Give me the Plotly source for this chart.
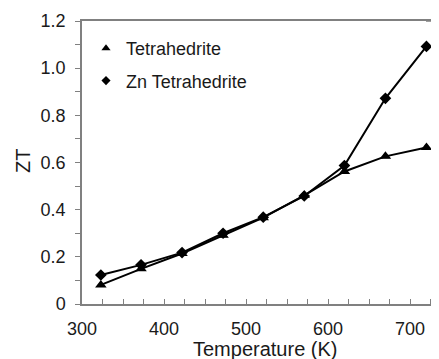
import plotly.graph_objects as go

temperature_k = [323, 372, 422, 472, 521, 571, 620, 670, 720]
zt_tetrahedrite = [0.081, 0.149, 0.214, 0.292, 0.366, 0.461, 0.562, 0.626, 0.664]
zt_zn_tetrahedrite = [0.123, 0.166, 0.218, 0.300, 0.368, 0.458, 0.587, 0.872, 1.092]

series_names = ["Tetrahedrite", "Zn Tetrahedrite"]
y_tick_vals = [0, 0.2, 0.4, 0.6, 0.8, 1.0, 1.2]
y_tick_text = ["0", "0.2", "0.4", "0.6", "0.8", "1.0", "1.2"]
x_tick_vals = [300, 400, 500, 600, 700]

FONT = "Liberation Sans, Arial, Helvetica, sans-serif"
AXIS_GRAY = "#808080"

# page body has an 8px margin; plot area in screen px: x 82..433, y 21..304
OFF = 8
L, R, T, B = 82 - OFF, 6 + OFF, 21 - OFF, 55 + OFF
PW, PH = 439 - L - R, 359 - T - B

fig = go.Figure()

specs = [
    (series_names[0], zt_tetrahedrite, "triangle-up", 10),
    (series_names[1], zt_zn_tetrahedrite, "diamond", 9),
]
for i, (name, ys, sym, sz) in enumerate(specs):
    fig.add_trace(go.Scatter(
        x=temperature_k, y=ys, mode="lines+markers", name=name,
        line=dict(color="black", width=2),
        marker=dict(symbol=sym, size=sz, color="black"),
        showlegend=False, legendgroup=f"g{i}",
    ))
for i, (name, ys, sym, sz) in enumerate(specs):
    fig.add_trace(go.Scatter(
        x=temperature_k, y=ys, mode="markers", name=name,
        marker=dict(symbol=sym, size=8 if i == 0 else 7, color="black"),
        showlegend=True, legendgroup=f"g{i}",
    ))

fig.update_layout(
    width=439, height=359,
    margin=dict(l=L, r=R, t=T, b=B, autoexpand=False),
    paper_bgcolor="white", plot_bgcolor="white",
    font=dict(family=FONT, size=17, color="#1a1a1a"),
    showlegend=True,
    legend=dict(
        xref="paper", yref="paper",
        x=4 / PW, y=1 - 9 / PH, xanchor="left", yanchor="top",
        bgcolor="rgba(0,0,0,0)", font=dict(size=18, family=FONT, color="#1a1a1a"),
        traceorder="grouped", tracegroupgap=6,
    ),
    xaxis=dict(
        range=[300, 728], tickvals=x_tick_vals,
        showgrid=False, zeroline=False,
        showline=True, mirror=True, linecolor=AXIS_GRAY, linewidth=1.5,
        ticks="inside", ticklen=5, tickcolor=AXIS_GRAY, tickwidth=1,
        minor=dict(dtick=25, ticks="inside", ticklen=5, tickcolor=AXIS_GRAY, showgrid=False),
        ticklabelstandoff=8,
        tickfont=dict(size=18, family=FONT, color="#1a1a1a"),
    ),
    yaxis=dict(
        range=[0, 1.2], tickvals=y_tick_vals, ticktext=y_tick_text,
        showgrid=False, zeroline=False,
        showline=True, linecolor=AXIS_GRAY, linewidth=1.5,
        ticks="outside", ticklen=5, tickcolor=AXIS_GRAY, tickwidth=1,
        minor=dict(dtick=0.1, ticks="outside", ticklen=5, tickcolor=AXIS_GRAY, showgrid=False),
        ticklabelstandoff=6,
        tickfont=dict(size=18, family=FONT, color="#1a1a1a"),
    ),
    annotations=[
        dict(text="Temperature (K)", xref="paper", yref="paper", x=(265 - 82) / PW, y=-(349 - 304) / PH,
             xanchor="center", yanchor="middle", showarrow=False,
             font=dict(size=20, family=FONT, color="#1a1a1a")),
        dict(text="ZT", xref="paper", yref="paper", x=(23 - 82) / PW, y=(304 - 161) / PH,
             xanchor="center", yanchor="middle", showarrow=False, textangle=-90,
             font=dict(size=20, family=FONT, color="#1a1a1a")),
    ],
    shapes=[
        dict(type="line", xref="paper", yref="paper", x0=0.98, x1=(439 - 82) / PW, y0=1, y1=1,
             line=dict(color=AXIS_GRAY, width=1.5)),
    ],
)

fig.write_html("out.html")
